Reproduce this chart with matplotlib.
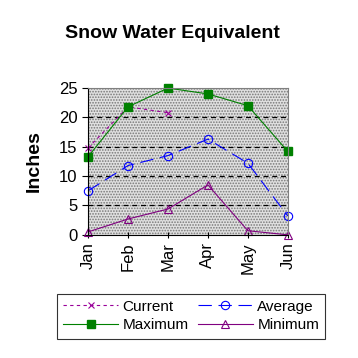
import matplotlib
matplotlib.use("Agg")
import matplotlib.pyplot as plt
from matplotlib.patches import Rectangle

plt.rcParams['font.family'] = ['Liberation Sans', 'DejaVu Sans']
plt.rcParams['hatch.linewidth'] = 0.8

months = ["Jan", "Feb", "Mar", "Apr", "May", "Jun"]
current = [14.8, 21.8, 20.8]
average = [7.5, 11.8, 13.5, 16.3, 12.2, 3.2]
maximum = [13.3, 21.8, 25.0, 24.0, 22.0, 14.2]
minimum = [0.5, 2.7, 4.4, 8.5, 0.7, 0.0]

fig = plt.figure(figsize=(3.58, 3.58), dpi=100)
ax = fig.add_axes([0.246, 0.344, 0.558, 0.41])
ax.set_facecolor('#e0e0e0')
ax.add_patch(Rectangle((0, 0), 1, 1, transform=ax.transAxes, facecolor='none',
                       edgecolor='#777777', linewidth=0, hatch='......',
                       zorder=0))

x = list(range(len(months)))
ax.plot(x[:len(current)], current, color='#990099', ls=(0, (3, 3)), lw=0.8,
        marker='x', ms=5, mew=0.8, label="Current")
ax.plot(x, average, color='blue', ls=(0, (12, 6)), lw=0.8,
        marker='o', ms=6, mfc='none', mew=0.8, label="Average")
ax.plot(x, maximum, color='green', lw=0.8, marker='s', ms=6, label="Maximum")
ax.plot(x, minimum, color='#800080', lw=0.8, marker='^', ms=6, mfc='none',
        mew=0.8, label="Minimum")

for yv in [5, 10, 15, 20]:
    ax.axhline(yv, color='black', ls=(0, (4, 3)), lw=0.9, zorder=1)

ax.set_xlim(0, 5)
ax.set_ylim(0, 25)
ax.set_xticks(x)
ax.set_xticklabels(months, rotation=90, fontsize=12)
ax.set_yticks([0, 5, 10, 15, 20, 25])
ax.tick_params(axis='y', labelsize=12, length=4)
ax.tick_params(axis='x', length=4, direction='inout')
for s in ['top', 'right']:
    ax.spines[s].set_color('#808080')
for sp in ax.spines.values():
    sp.set_linewidth(0.8)
for line in ax.get_lines():
    line.set_clip_on(False)

ax.set_ylabel("Inches", fontsize=14, fontweight='bold', labelpad=12)
fig.text(0.481, 0.907, "Snow Water Equivalent", ha='center', va='center',
         fontsize=14, fontweight='bold')

h, l = ax.get_legend_handles_labels()
order = [0, 2, 1, 3]
leg = fig.legend([h[i] for i in order], [l[i] for i in order], loc='center',
                 bbox_to_anchor=(0.534, 0.117),
                 ncol=2, fontsize=11, frameon=True, fancybox=False,
                 edgecolor='black', handlelength=3.6, columnspacing=0.6,
                 borderpad=0.4, labelspacing=0.3, handletextpad=0.3,
                 borderaxespad=0)
leg.get_frame().set_linewidth(0.8)

fig.savefig("out.png", dpi=100)
